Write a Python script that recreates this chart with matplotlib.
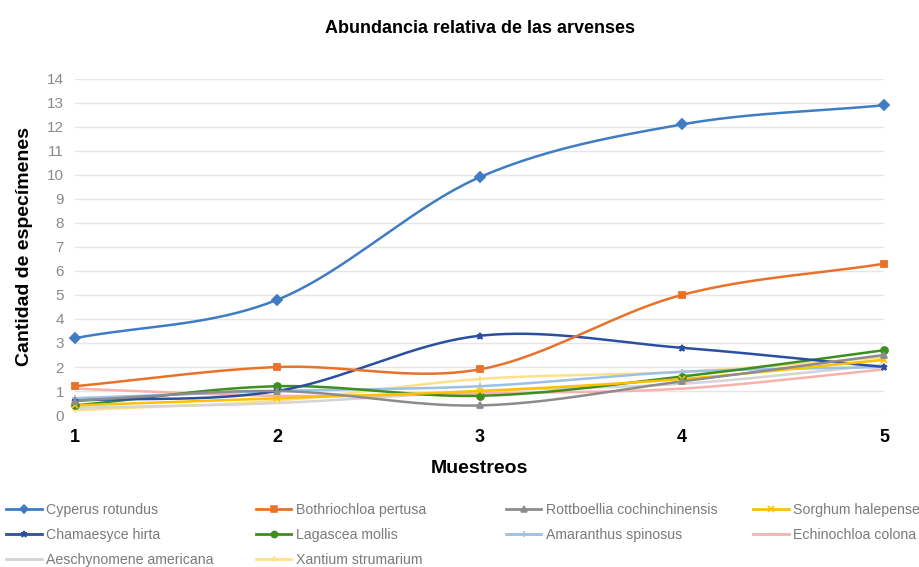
import numpy as np
import matplotlib
matplotlib.use("Agg")
from matplotlib import pyplot as plt

plt.rcParams['font.family'] = ['Liberation Sans', 'DejaVu Sans']

# data
muestreos = [1, 2, 3, 4, 5]
species = ['Cyperus rotundus', 'Bothriochloa pertusa', 'Rottboellia cochinchinensis',
           'Sorghum halepense', 'Chamaesyce hirta', 'Lagascea mollis',
           'Amaranthus spinosus', 'Echinochloa colona', 'Aeschynomene americana',
           'Xantium strumarium']
cyperus = [3.2, 4.8, 9.9, 12.1, 12.9]
bothriochloa = [1.2, 2.0, 1.9, 5.0, 6.3]
rottboellia = [0.6, 1.0, 0.4, 1.4, 2.5]
sorghum = [0.4, 0.7, 1.0, 1.5, 2.3]
chamaesyce = [0.6, 1.0, 3.3, 2.8, 2.0]
lagascea = [0.4, 1.2, 0.8, 1.6, 2.7]
amaranthus = [0.7, 1.0, 1.2, 1.8, 2.0]
echinochloa = [1.1, 0.8, 0.9, 1.1, 1.9]
aeschynomene = [0.3, 0.5, 1.0, 1.3, 2.1]
xantium = [0.2, 0.6, 1.5, 1.8, 2.4]

series = [cyperus, bothriochloa, rottboellia, sorghum, chamaesyce,
          lagascea, amaranthus, echinochloa, aeschynomene, xantium]
colors = ['#3f7cc4', '#e8722a', '#8c8c8c', '#ffc000', '#2b4fa0',
          '#3d8f1f', '#9dc0e8', '#f6b3aa', '#d4d4d4', '#ffe08a']
markers = ['D', 's', '^', 'x', '*', 'o', '+', '_', '', '+']


def smooth(x, y, n=40):
    # catmull-rom style smoothing like the spreadsheet's smoothed lines
    x = np.asarray(x, float)
    y = np.asarray(y, float)
    px = np.concatenate([[2 * x[0] - x[1]], x, [2 * x[-1] - x[-2]]])
    py = np.concatenate([[2 * y[0] - y[1]], y, [2 * y[-1] - y[-2]]])
    xs, ys = [], []
    t = np.linspace(0, 1, n)
    for i in range(1, len(px) - 2):
        for p, out in ((px, xs), (py, ys)):
            p0, p1, p2, p3 = p[i - 1], p[i], p[i + 1], p[i + 2]
            out.append(0.5 * ((2 * p1) + (-p0 + p2) * t
                              + (2 * p0 - 5 * p1 + 4 * p2 - p3) * t ** 2
                              + (-p0 + 3 * p1 - 3 * p2 + p3) * t ** 3))
    return np.concatenate(xs), np.concatenate(ys)


fig = plt.figure(figsize=(9.19, 5.67), dpi=100)
ax = fig.add_axes([0.0816, 0.268, 0.8804, 0.593])

for name, vals, c, m in reversed(list(zip(species, series, colors, markers))):
    sx, sy = smooth(muestreos, vals)
    ax.plot(sx, sy, color=c, lw=1.8, solid_capstyle='round', zorder=3)
    ax.plot(muestreos, vals, ls='none', marker=m, color=c, ms=5,
            mew=1.3, zorder=4, clip_on=False)

handles = []
for name, c, m in zip(species, colors, markers):
    h, = ax.plot([], [], color=c, lw=2, marker=m, ms=4.5, mew=1.1)
    handles.append(h)

ax.set_xlim(1, 5)
ax.set_ylim(0, 14)
ax.set_yticks(range(0, 15))
ax.set_xticks(muestreos)
ax.grid(axis='y', color='#e6e6e6', lw=1)
ax.set_axisbelow(True)
for s in ax.spines.values():
    s.set_visible(False)
ax.tick_params(axis='y', length=0, labelsize=11, labelcolor='#8a8a8a', pad=8)
ax.tick_params(axis='x', length=0, labelsize=13, pad=10)
for lbl in ax.get_xticklabels():
    lbl.set_fontweight('bold')

ax.set_title('Abundancia relativa de las arvenses', fontsize=13,
             fontweight='bold', pad=33)
ax.set_xlabel('Muestreos', fontsize=14, fontweight='bold', labelpad=10)
ax.set_ylabel('Cantidad de especímenes', fontsize=14, fontweight='bold',
              labelpad=10)

# legend laid out row by row in four evenly spaced columns
col_x = [0.002, 0.274, 0.546, 0.815]
for j in range(4):
    idx = list(range(j, len(species), 4))
    fig.legend(handles=[handles[i] for i in idx],
               labels=[species[i] for i in idx],
               frameon=False, loc='upper left',
               bbox_to_anchor=(col_x[j], 0.12), fontsize=10.2,
               labelcolor='#7a7a7a', handlelength=2.5, handletextpad=0.3,
               labelspacing=0.78, borderaxespad=0, borderpad=0.3)

fig.savefig('out.png', dpi=100)
